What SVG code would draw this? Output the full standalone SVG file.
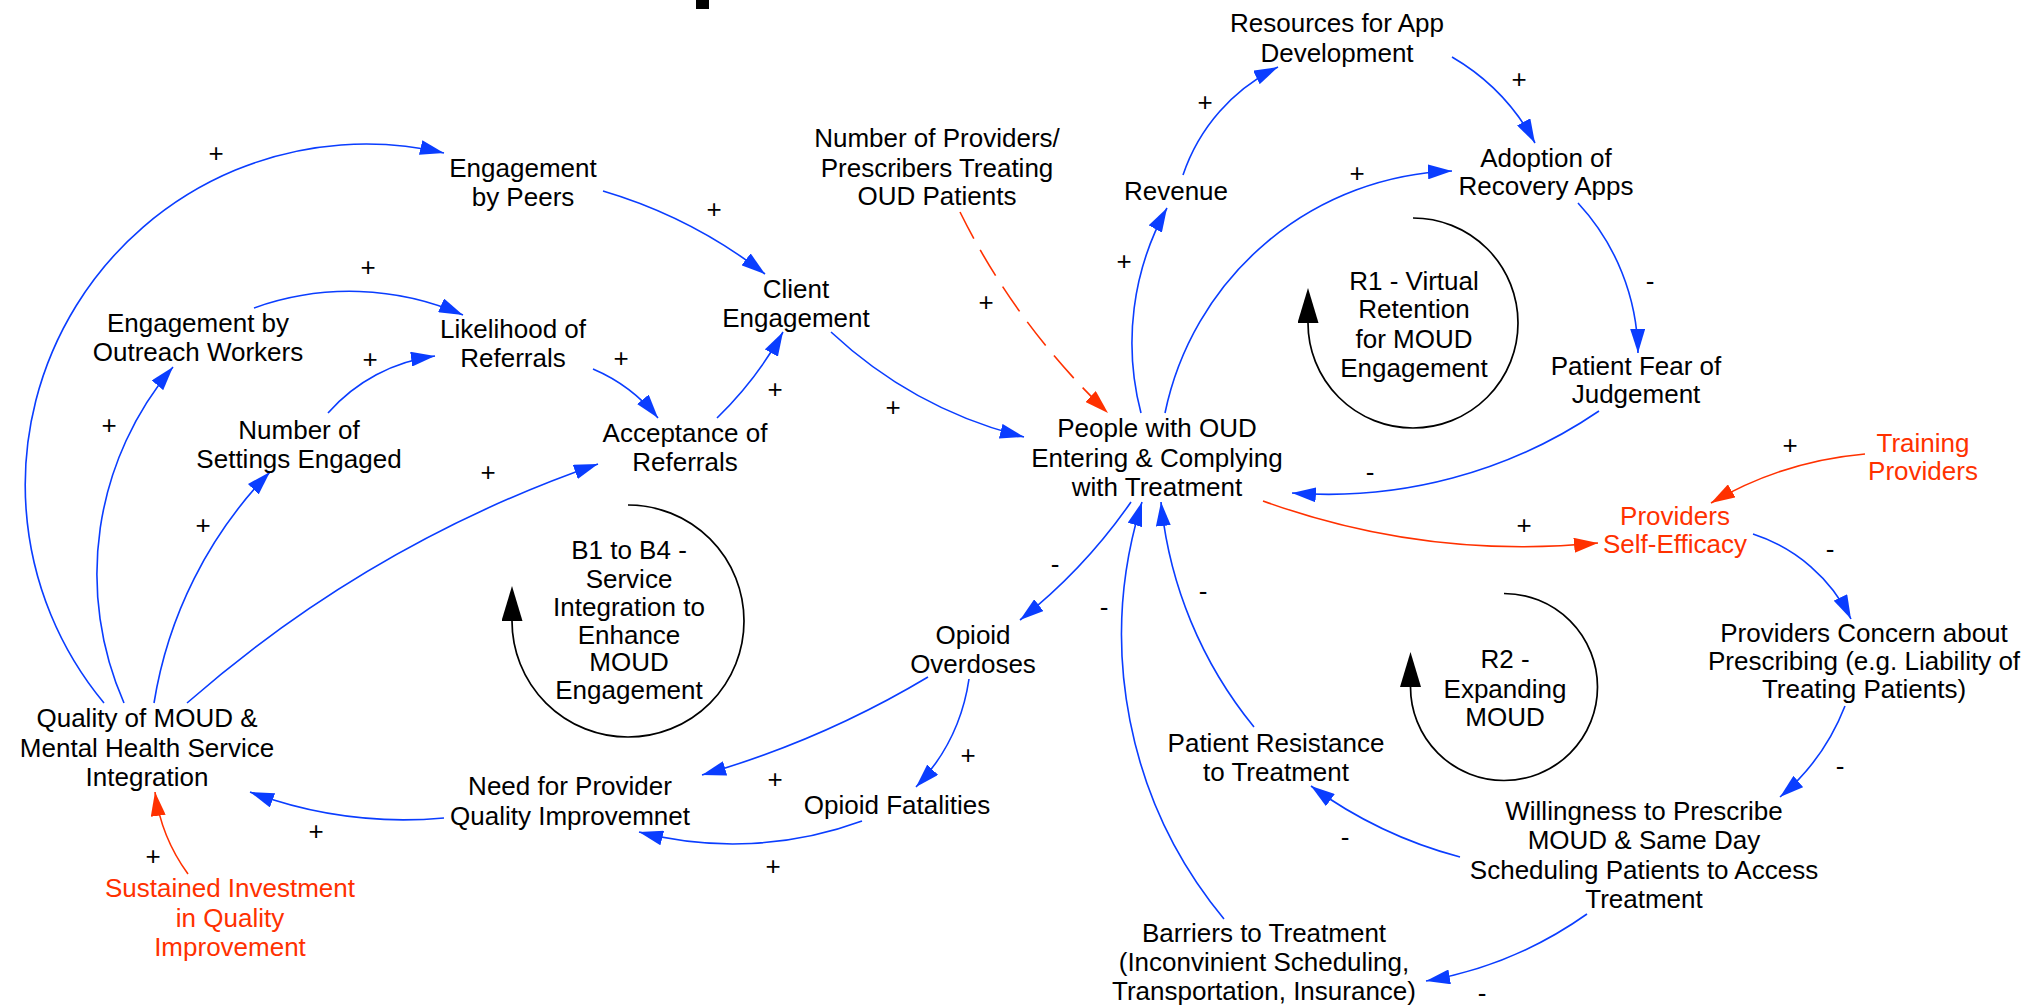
<svg xmlns="http://www.w3.org/2000/svg" width="2041" height="1007" viewBox="0 0 2041 1007">
<defs>
<style>
text{font-family:"Liberation Sans",Arial,Helvetica,sans-serif;font-size:26px;fill:#000;text-anchor:middle}
.ext text{fill:#ff3100}
.lk{fill:none;stroke:#0a3dff;stroke-width:1.6;marker-end:url(#hb)}
.lk.rd{stroke:#ff3100;marker-end:url(#hr)}
.dash{stroke-dasharray:30 13}
.loop{fill:none;stroke:#000;stroke-width:1.7;marker-end:url(#hk)}
</style>
<marker id="hb" viewBox="0 0 24 15" refX="24" refY="7.5" markerWidth="24" markerHeight="15" markerUnits="userSpaceOnUse" orient="auto"><path d="M0,0L24,7.5L0,15z" fill="#0a3dff"/></marker>
<marker id="hr" viewBox="0 0 24 15" refX="24" refY="7.5" markerWidth="24" markerHeight="15" markerUnits="userSpaceOnUse" orient="auto"><path d="M0,0L24,7.5L0,15z" fill="#ff3100"/></marker>
<marker id="hk" viewBox="0 0 35 21" refX="0" refY="10.5" markerWidth="35" markerHeight="21" markerUnits="userSpaceOnUse" orient="auto"><path d="M0,0L35,10.5L0,21z" fill="#000"/></marker>
</defs>
<rect width="2041" height="1007" fill="#fff"/>
<rect x="696" y="0" width="13" height="9" fill="#000"/>

<!-- causal links -->
<g id="connectors">
<path class="lk" d="M104,703 A341,341 0 0 1 444,153"/>
<path class="lk" d="M603,191 A491,491 0 0 1 765,274"/>
<path class="lk" d="M254,308 A283,283 0 0 1 463,315"/>
<path class="lk" d="M328,413 A172,172 0 0 1 435,356"/>
<path class="lk" d="M593,369 A168,168 0 0 1 658,418"/>
<path class="lk" d="M717,418 A369,369 0 0 0 783,332"/>
<path class="lk" d="M831,332 A438,438 0 0 0 1024,437"/>
<path class="lk" d="M124,703 A320,320 0 0 1 173,367"/>
<path class="lk" d="M154,703 A428,428 0 0 1 270,472"/>
<path class="lk" d="M187,703 A1240,1240 0 0 1 598,464"/>
<path class="lk rd dash" d="M960,212 A713,713 0 0 0 1108,413"/>
<path class="lk" d="M1141,413 A277,277 0 0 1 1167,208"/>
<path class="lk" d="M1183,175 A185.5,185.5 0 0 1 1278,67"/>
<path class="lk" d="M1452,57 A219,219 0 0 1 1535,143"/>
<path class="lk" d="M1165,413 A303.5,303.5 0 0 1 1452,171"/>
<path class="lk" d="M1578,203 A225,225 0 0 1 1638,353"/>
<path class="lk" d="M1599,411 A481,481 0 0 1 1292,493"/>
<path class="lk rd" d="M1865,454 A367,367 0 0 0 1711,503"/>
<path class="lk rd" d="M1263,501 A767,767 0 0 0 1598,543"/>
<path class="lk" d="M1753,534 A166,166 0 0 1 1851,619"/>
<path class="lk" d="M1845,706 A227,227 0 0 1 1780,797"/>
<path class="lk" d="M1460,857 A446,446 0 0 1 1311,786"/>
<path class="lk" d="M1587,914 A397,397 0 0 1 1426,981"/>
<path class="lk" d="M1224,919 A445,445 0 0 1 1142,502"/>
<path class="lk" d="M1254,727 A421,421 0 0 1 1161,502"/>
<path class="lk" d="M1131,502 A550,550 0 0 1 1020,620"/>
<path class="lk" d="M928,677 A952,952 0 0 1 702,775"/>
<path class="lk" d="M969,679 A197,197 0 0 1 916,787"/>
<path class="lk" d="M862,821 A375,375 0 0 1 639,832"/>
<path class="lk" d="M444,818 A441,441 0 0 1 250,792"/>
<path class="lk rd" d="M188,874 A180,180 0 0 1 155,792"/>
</g>

<!-- link polarities -->
<g id="polarity">
<text x="216" y="162">+</text>
<text x="714" y="218">+</text>
<text x="368" y="276">+</text>
<text x="370" y="368">+</text>
<text x="621" y="367">+</text>
<text x="775" y="398">+</text>
<text x="893" y="416">+</text>
<text x="109" y="434">+</text>
<text x="203" y="534">+</text>
<text x="488" y="481">+</text>
<text x="986" y="311">+</text>
<text x="1124" y="270">+</text>
<text x="1205" y="111">+</text>
<text x="1519" y="88">+</text>
<text x="1357" y="182">+</text>
<text x="1650" y="290">-</text>
<text x="1370" y="481">-</text>
<text x="1790" y="454">+</text>
<text x="1524" y="534">+</text>
<text x="1830" y="558">-</text>
<text x="1840" y="775">-</text>
<text x="1345" y="846">-</text>
<text x="1482" y="1002">-</text>
<text x="1104" y="616">-</text>
<text x="1203" y="600">-</text>
<text x="1055" y="573">-</text>
<text x="775" y="788">+</text>
<text x="968" y="764">+</text>
<text x="773" y="875">+</text>
<text x="316" y="840">+</text>
<text x="153" y="865">+</text>
</g>

<!-- feedback loop markers -->
<g id="loop-b1">
<path class="loop" d="M628,505 A116,116 0 1 1 512,621"/>
<text><tspan x="629" y="559">B1 to B4 -</tspan><tspan x="629" y="588">Service</tspan><tspan x="629" y="616">Integration to</tspan><tspan x="629" y="644">Enhance</tspan><tspan x="629" y="671">MOUD</tspan><tspan x="629" y="699">Engagement</tspan></text>
</g>
<g id="loop-r1">
<path class="loop" d="M1413,218 A105,105 0 1 1 1308,323"/>
<text><tspan x="1414" y="290">R1 - Virtual</tspan><tspan x="1414" y="318">Retention</tspan><tspan x="1414" y="348">for MOUD</tspan><tspan x="1414" y="377">Engagement</tspan></text>
</g>
<g id="loop-r2">
<path class="loop" d="M1504,593.5 A93.5,93.5 0 1 1 1410.5,687"/>
<text><tspan x="1505" y="668">R2 -</tspan><tspan x="1505" y="698">Expanding</tspan><tspan x="1505" y="726">MOUD</tspan></text>
</g>

<!-- variables -->
<g id="quality-integration"><text><tspan x="147" y="727">Quality of MOUD &amp;</tspan><tspan x="147" y="757">Mental Health Service</tspan><tspan x="147" y="786">Integration</tspan></text></g>
<g id="engagement-peers"><text><tspan x="523" y="177">Engagement</tspan><tspan x="523" y="206">by Peers</tspan></text></g>
<g id="engagement-outreach"><text><tspan x="198" y="332">Engagement by</tspan><tspan x="198" y="361">Outreach Workers</tspan></text></g>
<g id="likelihood-referrals"><text><tspan x="513" y="338">Likelihood of</tspan><tspan x="513" y="367">Referrals</tspan></text></g>
<g id="settings-engaged"><text><tspan x="299" y="439">Number of</tspan><tspan x="299" y="468">Settings Engaged</tspan></text></g>
<g id="acceptance-referrals"><text><tspan x="685" y="442">Acceptance of</tspan><tspan x="685" y="471">Referrals</tspan></text></g>
<g id="client-engagement"><text><tspan x="796" y="298">Client</tspan><tspan x="796" y="327">Engagement</tspan></text></g>
<g id="providers-treating"><text><tspan x="937" y="147">Number of Providers/</tspan><tspan x="937" y="177">Prescribers Treating</tspan><tspan x="937" y="205">OUD Patients</tspan></text></g>
<g id="revenue"><text x="1176" y="200">Revenue</text></g>
<g id="app-resources"><text><tspan x="1337" y="32">Resources for App</tspan><tspan x="1337" y="62">Development</tspan></text></g>
<g id="app-adoption"><text><tspan x="1546" y="167">Adoption of</tspan><tspan x="1546" y="195">Recovery Apps</tspan></text></g>
<g id="fear-judgement"><text><tspan x="1636" y="375">Patient Fear of</tspan><tspan x="1636" y="403">Judgement</tspan></text></g>
<g id="people-in-treatment"><text><tspan x="1157" y="437">People with OUD</tspan><tspan x="1157" y="467">Entering &amp; Complying</tspan><tspan x="1157" y="496">with Treatment</tspan></text></g>
<g id="training-providers" class="ext"><text><tspan x="1923" y="452">Training</tspan><tspan x="1923" y="480">Providers</tspan></text></g>
<g id="self-efficacy" class="ext"><text><tspan x="1675" y="525">Providers</tspan><tspan x="1675" y="553">Self-Efficacy</tspan></text></g>
<g id="prescribing-concern"><text><tspan x="1864" y="642">Providers Concern about</tspan><tspan x="1864" y="670">Prescribing (e.g. Liability of</tspan><tspan x="1864" y="698">Treating Patients)</tspan></text></g>
<g id="willingness"><text><tspan x="1644" y="820">Willingness to Prescribe</tspan><tspan x="1644" y="849">MOUD &amp; Same Day</tspan><tspan x="1644" y="879">Scheduling Patients to Access</tspan><tspan x="1644" y="908">Treatment</tspan></text></g>
<g id="patient-resistance"><text><tspan x="1276" y="752">Patient Resistance</tspan><tspan x="1276" y="781">to Treatment</tspan></text></g>
<g id="barriers"><text><tspan x="1264" y="942">Barriers to Treatment</tspan><tspan x="1264" y="971">(Inconvinient Scheduling,</tspan><tspan x="1264" y="1000">Transportation, Insurance)</tspan></text></g>
<g id="overdoses"><text><tspan x="973" y="644">Opioid</tspan><tspan x="973" y="673">Overdoses</tspan></text></g>
<g id="fatalities"><text x="897" y="814">Opioid Fatalities</text></g>
<g id="quality-need"><text><tspan x="570" y="795">Need for Provider</tspan><tspan x="570" y="825">Quality Improvemnet</tspan></text></g>
<g id="sustained-investment" class="ext"><text><tspan x="230" y="897">Sustained Investment</tspan><tspan x="230" y="927">in Quality</tspan><tspan x="230" y="956">Improvement</tspan></text></g>
</svg>
